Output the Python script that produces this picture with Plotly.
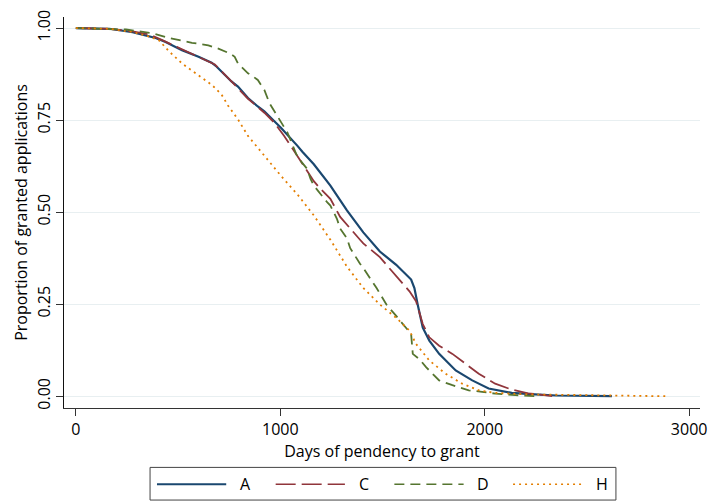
import plotly.graph_objects as go

# ---- data ----
a_days = [0, 164, 277, 358, 390, 439, 519, 600, 664, 689, 713, 761, 793, 842, 890, 922, 971, 1003,
          1084, 1108, 1164, 1245, 1326, 1406, 1487, 1567, 1640, 1656, 1672, 1697, 1729, 1777, 1858,
          1939, 2019, 2132, 2245, 2350, 2622]
a_prop = [1.0, 0.998, 0.989, 0.977, 0.973, 0.962, 0.940, 0.922, 0.906, 0.895, 0.882, 0.855, 0.841,
          0.810, 0.787, 0.774, 0.747, 0.729, 0.680, 0.664, 0.630, 0.572, 0.505, 0.445, 0.393, 0.357,
          0.317, 0.294, 0.249, 0.186, 0.151, 0.115, 0.070, 0.043, 0.021, 0.009, 0.005, 0.002, 0.0]

c_days = [0, 164, 277, 358, 423, 519, 600, 680, 761, 842, 922, 971, 1019, 1051, 1164, 1197, 1245,
          1293, 1326, 1390, 1406, 1487, 1519, 1632, 1664, 1697, 1729, 1777, 1842, 1906, 1971, 2051,
          2084, 2132, 2212, 2245, 2330]
c_prop = [1.0, 0.998, 0.991, 0.983, 0.967, 0.942, 0.921, 0.901, 0.855, 0.808, 0.770, 0.743, 0.707,
          0.680, 0.584, 0.563, 0.536, 0.487, 0.465, 0.425, 0.415, 0.378, 0.357, 0.285, 0.258, 0.196,
          0.160, 0.137, 0.115, 0.088, 0.061, 0.034, 0.028, 0.018, 0.008, 0.006, 0.0]

d_days = [0, 245, 374, 455, 568, 648, 697, 753, 777, 793, 842, 858, 890, 922, 947, 987, 1035, 1084,
          1132, 1148, 1164, 1229, 1245, 1277, 1293, 1326, 1342, 1390, 1406, 1471, 1519, 1567, 1616,
          1640, 1648, 1680, 1713, 1745, 1777, 1842, 1922, 1987, 2051, 2150, 2250]
d_prop = [1.0, 0.996, 0.986, 0.973, 0.960, 0.953, 0.944, 0.931, 0.922, 0.904, 0.877, 0.872, 0.859,
          0.832, 0.796, 0.761, 0.716, 0.650, 0.617, 0.590, 0.572, 0.527, 0.518, 0.482, 0.455, 0.429,
          0.402, 0.360, 0.348, 0.294, 0.249, 0.218, 0.186, 0.169, 0.115, 0.101, 0.079, 0.061, 0.043,
          0.030, 0.016, 0.012, 0.007, 0.003, 0.0]

h_days = [0, 164, 277, 342, 406, 455, 519, 600, 664, 681, 713, 745, 793, 842, 922, 1003, 1084, 1164,
          1245, 1326, 1406, 1487, 1567, 1632, 1664, 1729, 1809, 1890, 1971, 2051, 2212, 2500, 2883]
h_prop = [1.0, 0.998, 0.989, 0.980, 0.967, 0.937, 0.904, 0.872, 0.846, 0.837, 0.819, 0.789, 0.752,
          0.707, 0.653, 0.599, 0.548, 0.491, 0.425, 0.352, 0.294, 0.249, 0.213, 0.178, 0.142, 0.097,
          0.061, 0.034, 0.016, 0.009, 0.005, 0.002, 0.0]

series_names = ["A", "C", "D", "H"]
x_ticks = [0, 1000, 2000, 3000]
y_ticks = [0, 0.25, 0.5, 0.75, 1.0]

colors = {"A": "#1a476f", "C": "#90353b", "D": "#55752f", "H": "#e37e00"}
dashes = {"A": "solid", "C": "20px,6px", "D": "10px,6px", "H": "2px,4px"}
widths = {"A": 2.2, "C": 1.8, "D": 1.8, "H": 1.8}

FONT = "Open Sans"
W, H = 717, 502
L, R, T, B = 64, 10, 13, 94
PW, PH = W - L - R, H - T - B

fig = go.Figure()
for name, xs, ys in zip(series_names, [a_days, c_days, d_days, h_days],
                        [a_prop, c_prop, d_prop, h_prop]):
    fig.add_trace(go.Scatter(x=xs, y=ys, mode="lines", name=name, showlegend=False,
                             line=dict(color=colors[name], dash=dashes[name], width=widths[name])))

def px_x(px):
    return (px - L) / PW

def px_y(py):
    return (H - B - py) / PH

# legend drawn by hand (Stata style)
shapes = [dict(type="rect", xref="paper", yref="paper", x0=px_x(151), x1=px_x(622),
               y0=px_y(501), y1=px_y(468), line=dict(color="#444444", width=1), fillcolor="white")]
annotations = []
leg_y = px_y(485)
for i, name in enumerate(series_names):
    x0 = 158 + 120 * i
    shapes.append(dict(type="line", xref="paper", yref="paper", x0=px_x(x0), x1=px_x(x0 + 70),
                       y0=leg_y, y1=leg_y,
                       line=dict(color=colors[name], dash=dashes[name], width=widths[name] - 0.3)))
    annotations.append(dict(xref="paper", yref="paper", x=px_x(x0 + 82), y=leg_y, text=name,
                            showarrow=False, xanchor="left", yanchor="middle",
                            font=dict(family=FONT, size=16, color="black")))

fig.update_layout(
    width=W, height=H,
    margin=dict(l=L, r=R, t=T, b=B),
    paper_bgcolor="white", plot_bgcolor="white",
    font=dict(family=FONT, size=16, color="black"),
    shapes=shapes, annotations=annotations,
)
fig.update_xaxes(range=[-58, 3053], tickvals=x_ticks, ticktext=[str(v) for v in x_ticks],
                 showgrid=False, zeroline=False, showline=True, linecolor="#333333", linewidth=1,
                 ticks="outside", ticklen=7, tickcolor="#333333",
                 tickfont=dict(family=FONT, size=16),
                 title=dict(text="Days of pendency to grant", standoff=1, font=dict(family=FONT, size=16)))
fig.update_yaxes(range=[-0.032, 1.030], tickvals=y_ticks, ticktext=[f"{v:.2f}" for v in y_ticks],
                 tickangle=-90, showgrid=True, gridcolor="#e8eff1", gridwidth=1.2, zeroline=False,
                 showline=True, linecolor="#111111", linewidth=1,
                 ticks="outside", ticklen=7, tickcolor="#333333",
                 tickfont=dict(family=FONT, size=16),
                 title=dict(text="Proportion of granted applications", standoff=0,
                            font=dict(family=FONT, size=16)))

fig.write_html("out.html")
